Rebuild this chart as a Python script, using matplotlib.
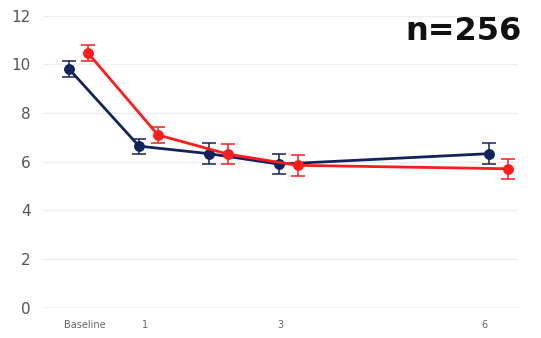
import numpy as np
import matplotlib
matplotlib.use("Agg")
import matplotlib.pyplot as plt

# months after baseline
months = [0, 1, 2, 3, 6]
navy_vals = [9.81, 6.64, 6.33, 5.90, 6.33]
navy_err = [0.33, 0.31, 0.42, 0.42, 0.42]
red_vals = [10.47, 7.10, 6.31, 5.85, 5.71]
red_err = [0.32, 0.34, 0.42, 0.42, 0.42]
tick_pos = [0.09, 0.95, 2.88, 5.8]
tick_labels = ["Baseline", "1", "3", "6"]
y_ticks = [0, 2, 4, 6, 8, 10, 12]

navy = "#13235c"
red = "#ff1c1c"
shift = 0.135

fig = plt.figure(figsize=(5.41, 3.38), dpi=100)
ax = fig.add_axes([43/541, 1 - 307.7/338, (518 - 43)/541, (307.7 - 15.7)/338])

for vals, err, col, dx, z in [(navy_vals, navy_err, navy, -shift, 3),
                              (red_vals, red_err, red, shift, 4)]:
    x = np.array(months) + dx
    ax.errorbar(x, vals, yerr=err, color=col, lw=2.0, marker="o", ms=6.8,
                capsize=5.2, elinewidth=1.1, capthick=1.1, zorder=z)

ax.set_ylim(0, 12)
ax.set_xlim(-0.507, 6.28)
ax.set_yticks(y_ticks)
ax.set_xticks(tick_pos)
ax.set_xticklabels(tick_labels)
ax.grid(axis="y", color="#eeeeee", lw=0.9, zorder=0)
ax.axhline(0, color="#c8c8c8", lw=1.0, zorder=1)
for s in ax.spines.values():
    s.set_visible(False)
ax.tick_params(axis="y", length=0, pad=9, labelsize=11, labelcolor="#555555")
ax.tick_params(axis="x", length=0, pad=9, labelsize=7, labelcolor="#666666")

fig.text(522/541, 1 - 32/338, "n=256", ha="right", va="center",
         fontsize=23, fontweight="heavy", color="#111111")

fig.savefig("out.png", dpi=100)
